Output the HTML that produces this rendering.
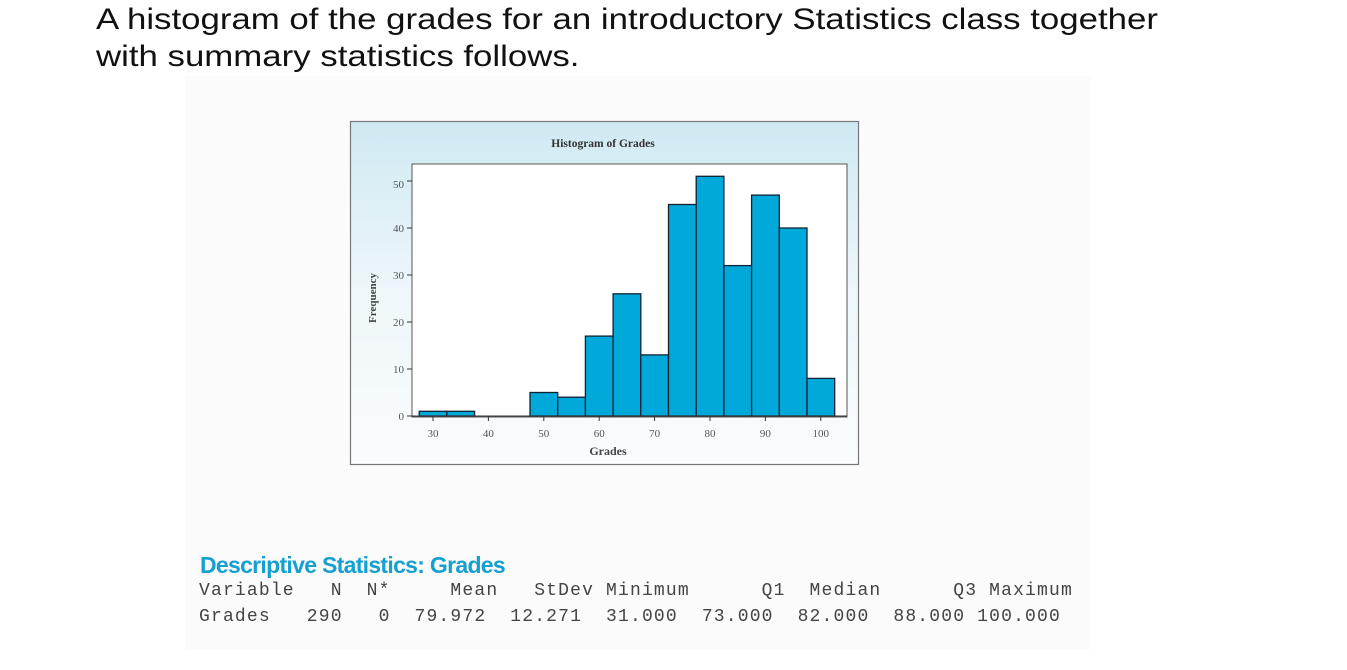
<!DOCTYPE html>
<html><head><style>
body{margin:0;width:1347px;height:670px;background:#fff;overflow:hidden;position:relative;font-family:"Liberation Sans",sans-serif}
.h{position:absolute;left:96px;top:1px;font-size:30px;line-height:37px;color:#111;transform-origin:0 0;transform:scaleX(1.16);white-space:nowrap}
.bg{position:absolute;left:185px;top:76px;width:905px;height:574px;background:#fbfbfb}
.t{position:absolute;left:200px;top:552px;font-size:23px;font-weight:bold;color:#15a0d0;letter-spacing:-0.7px}
.m{position:absolute;left:199px;font-family:"Liberation Mono",monospace;font-size:18px;letter-spacing:1.17px;color:#444;white-space:pre}
</style></head><body>
<div class="h">A histogram of the grades for an introductory Statistics class together<br>with summary statistics follows.</div>
<div class="bg"></div>
<svg style="position:absolute;left:0;top:0" width="1347" height="670">
<defs><linearGradient id="g" x1="0" y1="0" x2="0" y2="1"><stop offset="0" stop-color="#cfe9f2"/><stop offset="0.5" stop-color="#eef7fa"/><stop offset="1" stop-color="#fafcfd"/></linearGradient></defs>
<rect x="350.5" y="121.5" width="508" height="343" fill="url(#g)" stroke="#777" stroke-width="1.2"/>
<rect x="412" y="164" width="435" height="253" fill="#fff" stroke="#555" stroke-width="1"/>
<text x="603" y="147" font-family="Liberation Serif" font-weight="bold" font-size="11.5" fill="#333" text-anchor="middle">Histogram of Grades</text>
<g fill="#00a9da" stroke="#123" stroke-width="1.3">
<rect x="419.2" y="411.3" width="27.7" height="4.7"/>
<rect x="446.9" y="411.3" width="27.7" height="4.7"/>
<rect x="530" y="392.5" width="27.7" height="23.5"/>
<rect x="557.7" y="397.2" width="27.7" height="18.8"/>
<rect x="585.4" y="336.1" width="27.7" height="79.9"/>
<rect x="613.1" y="293.8" width="27.7" height="122.2"/>
<rect x="640.8" y="354.9" width="27.7" height="61.1"/>
<rect x="668.5" y="204.5" width="27.7" height="211.5"/>
<rect x="696.2" y="176.3" width="27.7" height="239.7"/>
<rect x="723.9" y="265.6" width="27.7" height="150.4"/>
<rect x="751.6" y="195.1" width="27.7" height="220.9"/>
<rect x="779.3" y="228" width="27.7" height="188"/>
<rect x="807" y="378.4" width="27.7" height="37.6"/>
</g>
<line x1="412" y1="416" x2="847" y2="416" stroke="#333"/>
<g stroke="#333"><line x1="407" y1="416" x2="412" y2="416"/><line x1="407" y1="369" x2="412" y2="369"/><line x1="407" y1="322" x2="412" y2="322"/><line x1="407" y1="275" x2="412" y2="275"/><line x1="407" y1="228" x2="412" y2="228"/><line x1="407" y1="181" x2="412" y2="181"/>
<line x1="433" y1="416" x2="433" y2="421"/><line x1="488.4" y1="416" x2="488.4" y2="421"/><line x1="543.8" y1="416" x2="543.8" y2="421"/><line x1="599.2" y1="416" x2="599.2" y2="421"/><line x1="654.6" y1="416" x2="654.6" y2="421"/><line x1="710" y1="416" x2="710" y2="421"/><line x1="765.4" y1="416" x2="765.4" y2="421"/><line x1="820.8" y1="416" x2="820.8" y2="421"/></g>
<g font-family="Liberation Serif" font-size="11" fill="#555" text-anchor="end">
<text x="404" y="420">0</text><text x="404" y="373">10</text><text x="404" y="326">20</text><text x="404" y="279">30</text><text x="404" y="232">40</text><text x="404" y="188">50</text></g>
<g font-family="Liberation Serif" font-size="11" fill="#555" text-anchor="middle">
<text x="433" y="437">30</text><text x="488.4" y="437">40</text><text x="543.8" y="437">50</text><text x="599.2" y="437">60</text><text x="654.6" y="437">70</text><text x="710" y="437">80</text><text x="765.4" y="437">90</text><text x="820.8" y="437">100</text></g>
<text x="608" y="455" font-family="Liberation Serif" font-weight="bold" font-size="12" fill="#444" text-anchor="middle">Grades</text>
<text transform="translate(376,298) rotate(-90)" font-family="Liberation Serif" font-weight="bold" font-size="11" fill="#444" text-anchor="middle">Frequency</text>
</svg>
<div class="t">Descriptive Statistics: Grades</div>
<div class="m" style="top:581px">Variable   N  N*     Mean   StDev Minimum      Q1  Median      Q3 Maximum</div>
<div class="m" style="top:607px">Grades   290   0  79.972  12.271  31.000  73.000  82.000  88.000 100.000</div>
</body></html>
